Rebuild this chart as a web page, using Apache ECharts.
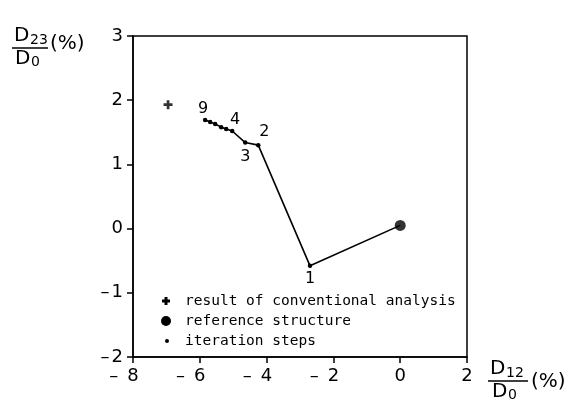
<!DOCTYPE html>
<html><head><meta charset="utf-8">
<script src="https://cdn.jsdelivr.net/npm/echarts@6/dist/echarts.min.js"></script>
<style>html,body{margin:0;padding:0;background:#fff}#c{width:571px;height:402px}</style>
</head><body><div id="c"></div>
<script>
// Data
const xTicks = [-8, -6, -4, -2, 0, 2];
const yTicks = [-2, -1, 0, 1, 2, 3];
const referencePoint = [0, 0.05];
const conventionalPoint = [-6.95, 1.93];
const iterX = [-2.7, -4.25, -4.64, -5.03, -5.21, -5.36, -5.54, -5.69, -5.84];
const iterY = [-0.58, 1.30, 1.34, 1.52, 1.55, 1.58, 1.63, 1.66, 1.69];
const iterLabels = ['1', '2', '3', '4', '', '', '', '', '9'];
const legendNames = ['result of conventional analysis', 'reference structure', 'iteration steps'];

const FONT = 'DejaVu Sans';
const MONO = 'DejaVu Sans Mono';
const labelPos = {'1': ['bottom', [0, 0]], '2': ['top', [6, 0]], '3': ['bottom', [0, 1]], '4': ['top', [3, 2]], '9': ['top', [-2, 2]]};

const iterData = iterX.map((x, i) => {
  const t = iterLabels[i];
  const p = labelPos[t];
  return {
    value: [x, iterY[i]],
    label: t ? {show: true, formatter: t, position: p[0], offset: p[1], color: '#000', fontSize: 16, fontFamily: FONT, distance: 3} : {show: false}
  };
});
const lineData = [{value: referencePoint, symbolSize: 0}].concat(iterData);

function xLabel(v) {
  return v < 0 ? '{m|\u2013}{d|' + Math.abs(v) + '}{p|}' : '{d|' + v + '}';
}
function yLabel(v) {
  return v < 0 ? '{m|\u2013}{d|' + Math.abs(v) + '}' : '{d|' + v + '}';
}
const tickFont = {fontSize: 18, fontFamily: FONT, color: '#000'};

function txt(x, y, text, size, family, align) {
  return {type: 'text', style: {x: x, y: y, text: text, font: size + 'px ' + (family || FONT), fill: '#000', textAlign: align || 'left', textVerticalAlign: 'middle'}};
}

const chart = echarts.init(document.getElementById('c'), null, {renderer: 'canvas'});
chart.setOption({
  backgroundColor: '#fff',
  animation: false,
  grid: {left: 133, right: 104, top: 36, bottom: 45, show: true, borderColor: '#000', borderWidth: 1.5, backgroundColor: 'transparent'},
  xAxis: {
    type: 'value', min: xTicks[0], max: xTicks[xTicks.length - 1], interval: 2,
    axisLine: {onZero: false, lineStyle: {color: '#000', width: 1.5}},
    axisTick: {show: true, inside: false, length: 6, lineStyle: {color: '#000', width: 1.5}},
    axisLabel: {margin: 10, formatter: xLabel, color: '#000', fontSize: 18, fontFamily: FONT,
      rich: {m: Object.assign({width: 18, align: 'left'}, tickFont), d: tickFont, p: Object.assign({width: 18}, tickFont)}},
    splitLine: {show: false}
  },
  yAxis: {
    type: 'value', min: yTicks[0], max: yTicks[yTicks.length - 1], interval: 1,
    axisLine: {onZero: false, lineStyle: {color: '#000', width: 1.5}},
    axisTick: {show: true, inside: false, length: 6, lineStyle: {color: '#000', width: 1.5}},
    axisLabel: {margin: 10, formatter: yLabel, color: '#000', fontSize: 18, fontFamily: FONT,
      rich: {m: Object.assign({width: 11, align: 'left'}, tickFont), d: tickFont}},
    splitLine: {show: false}
  },
  series: [
    {
      name: legendNames[2], type: 'line', data: lineData, symbol: 'circle', symbolSize: 4.5,
      itemStyle: {color: '#000'}, lineStyle: {color: '#000', width: 1.6}, z: 3
    },
    {
      name: legendNames[1], type: 'scatter', data: [referencePoint], symbol: 'circle', symbolSize: 11,
      itemStyle: {color: '#000'}, z: 4
    },
    {
      name: legendNames[0], type: 'scatter', data: [conventionalPoint],
      symbol: 'path://M3.5,0H6.5V3.5H10V6.5H6.5V10H3.5V6.5H0V3.5H3.5Z', symbolSize: 9,
      itemStyle: {color: '#000'}, z: 4
    }
  ],
  graphic: [
    // legend
    {type: 'rect', shape: {x: 162, y: 299.5, width: 8, height: 3}, style: {fill: '#000'}},
    {type: 'rect', shape: {x: 164.5, y: 297, width: 3, height: 8}, style: {fill: '#000'}},
    {type: 'circle', shape: {cx: 166, cy: 321, r: 5}, style: {fill: '#000'}},
    {type: 'circle', shape: {cx: 167, cy: 341, r: 2}, style: {fill: '#000'}},
    txt(185, 301, legendNames[0], 14.5, MONO),
    txt(185, 321, legendNames[1], 14.5, MONO),
    txt(185, 341, legendNames[2], 14.5, MONO),
    // y axis title
    txt(14, 36, 'D', 20), txt(30, 40, '23', 14),
    {type: 'line', shape: {x1: 12, y1: 48, x2: 48, y2: 48}, style: {stroke: '#000', lineWidth: 1.5}},
    txt(15, 59, 'D', 20), txt(31, 62, '0', 14),
    txt(50, 44, '(%)', 20),
    // x axis title
    txt(490, 369, 'D', 20), txt(506, 373, '12', 14),
    {type: 'line', shape: {x1: 488, y1: 381, x2: 528, y2: 381}, style: {stroke: '#000', lineWidth: 1.5}},
    txt(492, 392, 'D', 20), txt(508, 395, '0', 14),
    txt(531, 382, '(%)', 20)
  ]
});
</script></body></html>
